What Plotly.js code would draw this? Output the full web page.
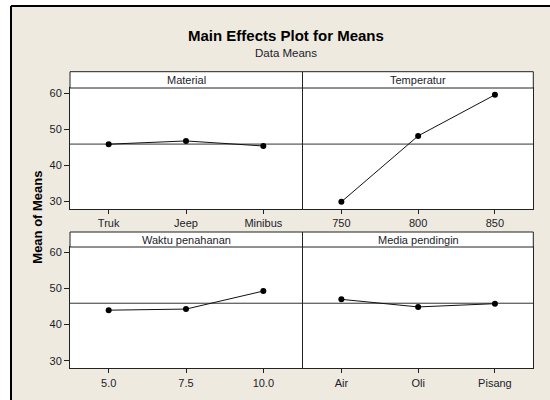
<!DOCTYPE html>
<html><head><meta charset="utf-8">
<script src="https://cdn.plot.ly/plotly-3.0.1.min.js"></script>
<style>html,body{margin:0;padding:0;background:#fff;} #chart{width:550px;height:400px;}</style>
</head><body><div id="chart"></div>
<script>
// ---- data ----
const materialLevels = ['Truk', 'Jeep', 'Minibus'];
const materialMeans = [45.9, 46.8, 45.4];
const temperaturLevels = ['750', '800', '850'];
const temperaturMeans = [29.9, 48.2, 59.6];
const waktuLevels = ['5.0', '7.5', '10.0'];
const waktuMeans = [44.0, 44.3, 49.3];
const mediaLevels = ['Air', 'Oli', 'Pisang'];
const mediaMeans = [47.0, 44.9, 45.8];
const panelTitles = ['Material', 'Temperatur', 'Waktu penahanan', 'Media pendingin'];
const yTickVals = [30, 40, 50, 60];
const chartTitle = 'Main Effects Plot for Means';
const chartSubtitle = 'Data Means';
const yAxisTitle = 'Mean of Means';

// ---- layout helpers (pixel -> paper) ----
const W = 550, H = 400;
const px = v => v / W;
const py = v => 1 - v / H;

const allMeans = [].concat(materialMeans, temperaturMeans, waktuMeans, mediaMeans);
const grandMean = allMeans.reduce((a, b) => a + b, 0) / allMeans.length;

const FONT = 'Liberation Sans, Arial, sans-serif';
const TXT = '#1c1c28';
const LINE = '#222222';
const BG = '#EEEAE0';

const colL = [70, 302], colR = [303, 533.3];
const rowT = [88, 209], rowB = [247, 368.3];
const stripT = [71.7, 88], stripB = [232, 247];
const yRange = [27.9, 61.5];

const panels = [
  {lv: materialLevels, m: materialMeans, col: colL, row: rowT, strip: stripT, t: panelTitles[0]},
  {lv: temperaturLevels, m: temperaturMeans, col: colR, row: rowT, strip: stripT, t: panelTitles[1]},
  {lv: waktuLevels, m: waktuMeans, col: colL, row: rowB, strip: stripB, t: panelTitles[2]},
  {lv: mediaLevels, m: mediaMeans, col: colR, row: rowB, strip: stripB, t: panelTitles[3]}
];

const traces = [];
const layout = {
  width: W, height: H,
  margin: {l: 0, r: 0, t: 0, b: 0},
  paper_bgcolor: BG,
  plot_bgcolor: '#ffffff',
  showlegend: false,
  font: {family: FONT, color: TXT, size: 11},
  shapes: [],
  annotations: []
};

panels.forEach((p, i) => {
  const n = i === 0 ? '' : String(i + 1);
  traces.push({
    type: 'scatter', mode: 'lines+markers',
    x: p.lv, y: p.m,
    xaxis: 'x' + n, yaxis: 'y' + n,
    line: {color: '#111111', width: 1},
    marker: {color: '#000000', size: 6},
    hoverinfo: 'skip'
  });
  const isLeft = p.col === colL;
  layout['xaxis' + n] = {
    domain: [px(p.col[0]), px(p.col[1])],
    anchor: 'y' + n,
    type: 'category',
    range: [-0.5, 2.5],
    showline: true, mirror: true, linecolor: LINE, linewidth: 1,
    ticks: 'outside', ticklen: 4, tickcolor: LINE,
    tickfont: {family: FONT, size: 11, color: TXT},
    showgrid: false, zeroline: false, fixedrange: true
  };
  layout['yaxis' + n] = {
    domain: [py(p.row[1]), py(p.row[0])],
    anchor: 'x' + n,
    range: yRange,
    tickvals: yTickVals,
    showline: true, mirror: true, linecolor: LINE, linewidth: 1,
    ticks: isLeft ? 'outside' : '', ticklen: 5, tickcolor: LINE,
    showticklabels: isLeft,
    tickfont: {family: FONT, size: 11, color: TXT},
    showgrid: false, zeroline: false, fixedrange: true
  };
  // strip
  layout.shapes.push({
    type: 'rect', xref: 'paper', yref: 'paper',
    x0: px(p.col[0] - (isLeft ? 0 : 0.5)), x1: px(p.col[1] + (isLeft ? 0.5 : 0)), y0: py(p.strip[1]), y1: py(p.strip[0]),
    fillcolor: '#ffffff', line: {color: LINE, width: 1}
  });
  layout.annotations.push({
    xref: 'paper', yref: 'paper',
    x: px((p.col[0] + p.col[1]) / 2), y: py((p.strip[0] + p.strip[1]) / 2),
    text: p.t, showarrow: false, xanchor: 'center', yanchor: 'middle',
    font: {family: FONT, size: 11, color: TXT}
  });
  // grand mean reference line
  layout.shapes.push({
    type: 'line', xref: 'x' + n + ' domain', yref: 'y' + n,
    x0: 0, x1: 1, y0: grandMean, y1: grandMean,
    line: {color: '#333333', width: 1}, layer: 'below'
  });
});

// outer frame
layout.shapes.push(
  {type: 'rect', xref: 'paper', yref: 'paper', x0: 0, x1: 1, y0: py(5), y1: 1, fillcolor: '#ffffff', line: {width: 0}},
  {type: 'rect', xref: 'paper', yref: 'paper', x0: 0, x1: px(10), y0: 0, y1: 1, fillcolor: '#ffffff', line: {width: 0}},
  {type: 'line', xref: 'paper', yref: 'paper', x0: px(11), x1: px(11), y0: 0, y1: py(6), line: {color: '#000000', width: 2}},
  {type: 'line', xref: 'paper', yref: 'paper', x0: px(11), x1: 1, y0: py(6), y1: py(6), line: {color: '#000000', width: 2}}
);

// titles
layout.annotations.push(
  {xref: 'paper', yref: 'paper', x: px(286), y: py(35), text: '<b>' + chartTitle + '</b>', showarrow: false,
   xanchor: 'center', yanchor: 'middle', font: {family: FONT, size: 15, color: '#000000'}},
  {xref: 'paper', yref: 'paper', x: px(286), y: py(53.3), text: chartSubtitle, showarrow: false,
   xanchor: 'center', yanchor: 'middle', font: {family: FONT, size: 11.5, color: TXT}},
  {xref: 'paper', yref: 'paper', x: px(36.7), y: py(217), text: '<b>' + yAxisTitle + '</b>', showarrow: false,
   textangle: -90, xanchor: 'center', yanchor: 'middle', font: {family: FONT, size: 13, color: '#000000'}}
);

Plotly.newPlot('chart', traces, layout, {displayModeBar: false, staticPlot: true});
</script>
</body></html>
